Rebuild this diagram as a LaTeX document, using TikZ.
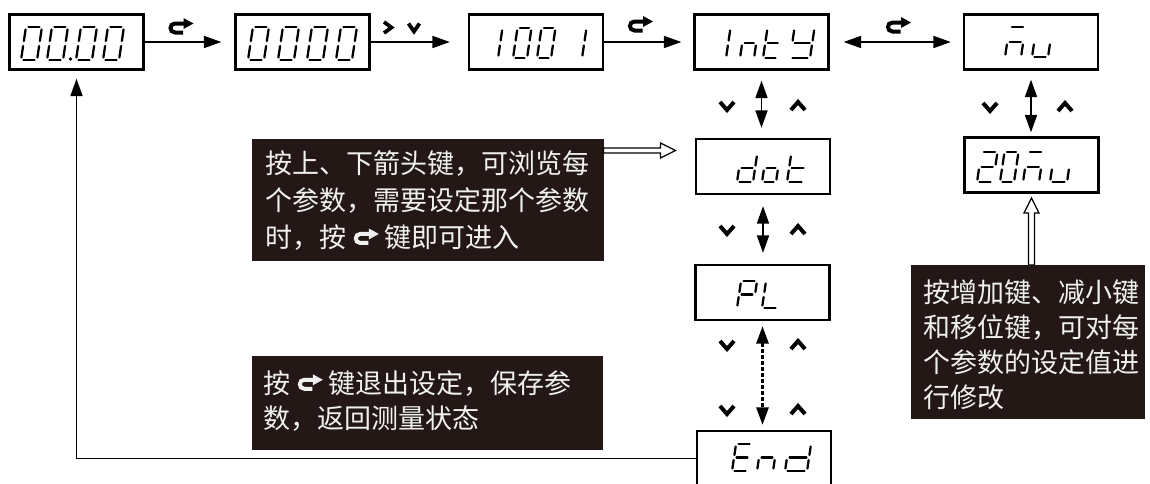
\documentclass[tikz,border=0pt]{standalone}
\usepackage{fontspec}
\newfontfamily\cjk{Noto Sans CJK SC}
\usetikzlibrary{arrows.meta,calc}
\definecolor{boxbg}{HTML}{231815}
\definecolor{txtc}{HTML}{F0F0F0}
\tikzset{
  disp/.style={draw, line width=1.8pt, minimum width=100.5pt, minimum height=41.25pt, inner sep=0pt},
  conn/.style={line width=1.2pt, -{Triangle[length=13pt,width=9pt]}},
  conn2/.style={line width=1.2pt, {Triangle[length=13pt,width=9pt]}-{Triangle[length=13pt,width=9pt]}},
  segl/.style={line width=1.7pt, line cap=round},
  chev/.style={line width=3pt, line join=miter},
  darkbox/.style={fill=boxbg, draw=boxbg, inner sep=0pt},
  ctext/.style={text=txtc, font=\cjk\fontsize{20.25pt}{27.75pt}\selectfont, align=left, inner sep=0pt},
  ctextb/.style={ctext, font=\cjk\fontsize{20.25pt}{26.25pt}\selectfont},
  hollow/.style={draw, line width=0.9pt, fill=white},
  pics/hk/.style={code={
    \draw[line width=3pt,#1] (2.5,4.5) -- (-5.5,4.5) .. controls (-11.5,4.5) and (-11.5,-4.5) .. (-5.5,-4.5) -- (4,-4.5);
    \fill[#1] (3,-10) -- (13,-4.5) -- (3,1) -- cycle;}},
  pics/hk/.default=black,
  pics/vd/.style={code={\draw[chev] (-7,-4) -- (0,4) -- (7,-4);}},
  pics/vu/.style={code={\draw[chev] (-7,4) -- (0,-4) -- (7,4);}},
  pics/gt/.style={code={\draw[chev,line width=2.8pt] (-4,-5.5) -- (3.5,0) -- (-4,5.5);}},
  pics/vs/.style={code={\draw[chev,line width=2.8pt] (-5.5,-4) -- (0,4) -- (5.5,-4);}},
}
\newcommand\hookw{\tikz[x=0.75pt,y=-0.75pt,baseline={(0,9)}]\pic{hk=txtc};}
\newcommand\ssga[4]{\draw[segl] ({#1+2.5+0.15*#4},{#2-#4}) -- ({#1+#3-2.5+0.15*#4},{#2-#4});}
\newcommand\ssgb[4]{\draw[segl] ({#1+#3+0.15*(#4-2.5)},{#2-#4+2.5}) -- ({#1+#3+0.15*(#4/2+2.5)},{#2-#4/2-2.5});}
\newcommand\ssgc[4]{\draw[segl] ({#1+#3+0.15*(#4/2-2.5)},{#2-#4/2+2.5}) -- ({#1+#3+0.15*2.5},{#2-2.5});}
\newcommand\ssgd[4]{\draw[segl] ({#1+2.5},{#2}) -- ({#1+#3-2.5},{#2});}
\newcommand\ssge[4]{\draw[segl] ({#1+0.15*2.5},{#2-2.5}) -- ({#1+0.15*(#4/2-2.5)},{#2-#4/2+2.5});}
\newcommand\ssgf[4]{\draw[segl] ({#1+0.15*(#4/2+2.5)},{#2-#4/2-2.5}) -- ({#1+0.15*(#4-2.5)},{#2-#4+2.5});}
\newcommand\ssgg[4]{\draw[segl] ({#1+2.5+0.15*#4/2},{#2-#4/2}) -- ({#1+#3-2.5+0.15*#4/2},{#2-#4/2});}
\newcommand\SSeg[5]{\foreach \q in {#5}{\csname ssg\q\endcsname{#1}{#2}{#3}{#4}}}
\begin{document}
\begin{tikzpicture}[x=0.75pt,y=-0.75pt]
\useasboundingbox (0,0) rectangle (1150,483);
\clip (0,0) rectangle (1150,483);
\fill[white] (0,0) rectangle (1150,483);

% display boxes
\node[disp] (b1) at (76.5,42) {};
\node[disp] (b2) at (302.5,42) {};
\node[disp] (b3) at (536,42) {};
\node[disp] (b4) at (761.5,42) {};
\node[disp] (b5) at (1031,42) {};
\node[disp] (dot) at (763,166.5) {};
\node[disp] (nu20) at (1031.5,165) {};
\node[disp] (PL) at (762.5,292.5) {};
\node[disp] (End) at (764,458.5) {};

% segment glyphs
\SSeg{21}{60}{16}{33}{a,b,c,d,e,f}
\SSeg{47}{60}{16}{33}{a,b,c,d,e,f}
\fill (70.5,59) circle (1.9);
\SSeg{76}{60}{16}{33}{a,b,c,d,e,f}
\SSeg{103}{60}{16}{33}{a,b,c,d,e,f}

\SSeg{248}{60}{16}{33}{a,b,c,d,e,f}
\SSeg{278}{60}{16}{33}{a,b,c,d,e,f}
\SSeg{307}{60}{16}{33}{a,b,c,d,e,f}
\SSeg{336}{60}{16}{33}{a,b,c,d,e,f}

\SSeg{498}{58}{14}{30}{e,f}
\SSeg{513}{58}{14}{30}{a,b,c,d,e,f}
\SSeg{537}{58}{14}{30}{a,b,c,d,e,f}
\SSeg{582}{58}{14}{30}{e,f}

\SSeg{726}{58}{14}{30}{e,f}
\SSeg{740}{58}{14}{30}{c,e,g}
\SSeg{763}{58}{15}{30}{d,e,f,g}
\SSeg{790}{58}{20}{30}{b,c,d,f,g}

\SSeg{1005}{57}{16}{30}{a,c,e,g}
\SSeg{1032}{57}{16}{30}{c,d,e}

\SSeg{737}{182}{16}{28}{b,c,d,e,g}
\SSeg{762}{182}{14}{28}{c,d,e,g}
\SSeg{787}{182}{17}{28}{d,e,f,g}

\SSeg{977}{182}{16}{30}{a,b,d,e,g}
\SSeg{1000}{182}{14}{30}{a,b,c,d,e,f}
\SSeg{1023}{182}{16}{30}{a,c,e,g}
\SSeg{1050}{182}{17}{30}{c,d,e}

\SSeg{737}{308}{16}{27}{a,b,e,f,g}
\SSeg{762}{308}{16}{27}{d,e,f}

\SSeg{732}{471}{16}{27}{a,d,e,f,g}
\SSeg{757}{471}{16}{27}{c,e,g}
\SSeg{785}{471}{22}{27}{b,c,d,e,g}

% top row connectors
\draw[conn] (b1.east) -- ([xshift=-9.75pt]b2.west);
\draw[conn] (b2.east) -- ([xshift=-13.5pt]b3.west);
\draw[conn] (b3.east) -- ([xshift=-9pt]b4.west);
\draw[conn2] ([xshift=10.5pt]b4.east) -- ([xshift=-9pt]b5.west);
\pic at (180.5,28) {hk};
\pic at (388,27.5) {gt};
\pic at (414,27.5) {vs};
\pic at (640,26) {hk};
\pic at (898,27) {hk};

% vertical connectors
\draw[conn2, shorten <=7.5pt, shorten >=7.5pt] (b4.south) -- (b4.south |- dot.north);
\draw[conn2, shorten <=8.25pt, shorten >=8.25pt] (dot.south) -- (dot.south |- PL.north);
\draw[conn2, line width=2pt, dash pattern=on 3pt off 1.5pt, shorten <=3.75pt, shorten >=3.75pt] (PL.south) -- (PL.south |- End.north);
\draw[conn2, shorten <=6.75pt, shorten >=3pt] (b5.south) -- (b5.south |- nu20.north);
\pic at (727,106) {vd}; \pic at (798,106) {vu};
\pic at (727,230) {vd}; \pic at (798,230) {vu};
\pic at (727,345) {vd}; \pic at (798,345) {vu};
\pic at (727,410) {vd}; \pic at (798,410) {vu};
\pic at (990,107) {vd}; \pic at (1065,107) {vu};

% return connector
\draw[conn, shorten >=6pt] (End.west) -| (b1.south);

% text boxes
\node[darkbox, anchor=north west, minimum width=263.25pt, minimum height=90.75pt] (A) at (252,139) {};
\node[ctext, anchor=west] (At) at ([xshift=9.75pt,yshift=-0.5pt]A.west) {按上、下箭头键，可浏览每\\个参数，需要设定那个参数\\时，按 \hookw{} 键即可进入};
\node[darkbox, anchor=north west, minimum width=262.5pt, minimum height=69.75pt] (B) at (252,356) {};
\node[ctextb, anchor=west] (Bt) at ([xshift=8.25pt,yshift=1.5pt]B.west) {按 \hookw{} 键退出设定，保存参\\数，返回测量状态};
\node[darkbox, anchor=north west, minimum width=174.75pt, minimum height=114.75pt] (C) at (911,265) {};
\node[ctextb, anchor=west] (Ct) at ([xshift=9pt,yshift=-2pt]C.west) {按增加键、减小键\\和移位键，可对每\\个参数的设定值进\\行修改};

% hollow arrows
\draw[hollow] ($(A.north east)+(0,9)$) -- ++(57,0) -- ++(0,-5) -- ++(15,7.5) -- ++(-15,7.5) -- ++(0,-5) -- ++(-57,0) -- cycle;
\draw[hollow] ($(nu20.south |- C.north)+(-3,0)$) -- ++(0,-52) -- ++(-4.5,0) -- ++(7.5,-15) -- ++(7.5,15) -- ++(-4.5,0) -- ++(0,52) -- cycle;
\end{tikzpicture}
\end{document}
